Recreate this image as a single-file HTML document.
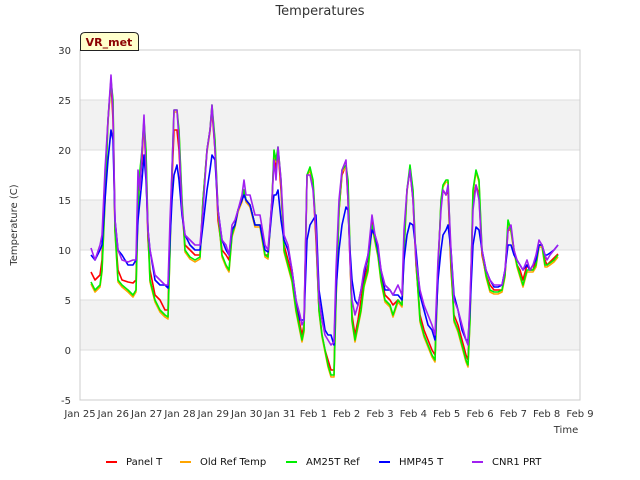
<!DOCTYPE html>
<html><head><meta charset="utf-8"><style>
body{margin:0;background:#fff;}
svg{display:block;font-family:"DejaVu Sans","Liberation Sans",sans-serif;}
</style></head><body>
<svg id="chart" width="640" height="480" viewBox="0 0 640 480">
<rect x="0" y="0" width="640" height="480" fill="#fff"/>
<text x="320" y="15" text-anchor="middle" font-size="13" fill="#333">Temperatures</text>
<g id="bands"></g>
<g id="grid"></g>
<rect x="80" y="50" width="500" height="350" fill="none" stroke="#ccc"/>
<g id="yticks"></g>
<g id="xticks"></g>
<text transform="translate(17,225) rotate(-90)" text-anchor="middle" font-size="10" fill="#333">Temperature (C)</text>
<text x="566" y="433" text-anchor="middle" font-size="10" fill="#333">Time</text>
<g id="series"></g>
<g>
<path d="M80.5,50.5 V37 Q80.5,32.5 85,32.5 H134 Q138.5,32.5 138.5,37 V50.5 Z" fill="#ffffcc" stroke="#222"/>
<text x="109" y="46" text-anchor="middle" font-size="11" font-weight="bold" fill="#8b0000">VR_met</text>
</g>
<g id="legend"></g>
</svg>
<script>
const times=[0.33,0.45,0.6,0.66,0.75,0.84,0.93,0.99,1.05,1.14,1.26,1.44,1.59,1.68,1.74,1.8,1.86,1.92,1.98,2.04,2.1,2.25,2.4,2.55,2.64,2.7,2.76,2.82,2.91,2.97,3.06,3.15,3.3,3.45,3.6,3.69,3.81,3.9,3.96,4.05,4.14,4.26,4.38,4.47,4.56,4.65,4.74,4.86,4.92,4.98,5.1,5.25,5.4,5.55,5.64,5.76,5.82,5.88,5.94,6.03,6.12,6.24,6.36,6.48,6.6,6.66,6.72,6.81,6.9,6.99,7.08,7.17,7.26,7.35,7.44,7.53,7.62,7.68,7.77,7.86,7.98,8.04,8.1,8.16,8.25,8.34,8.43,8.52,8.64,8.76,8.85,8.94,9.03,9.15,9.3,9.39,9.54,9.66,9.72,9.81,9.9,9.99,10.08,10.2,10.32,10.44,10.56,10.65,10.74,10.83,10.89,10.98,11.04,11.13,11.22,11.34,11.46,11.58,11.64,11.7,11.79,11.88,11.97,12.06,12.18,12.3,12.42,12.54,12.66,12.75,12.84,12.93,13.02,13.11,13.2,13.29,13.41,13.5,13.59,13.68,13.77,13.86,13.95,14.01,14.1,14.22,14.34];
const cnr1=[10.2,9,10.5,11.5,18,23,27.5,24,13,10,9,8.8,9,9,18,16,20,23.5,18,12,10,7.5,7,6.5,6.5,13,18,24,24,21,14,11.5,11,10.5,10.5,14,20,22,24.5,20,14,11,10.5,9.5,12.5,13,14,15.5,17,15.5,15.5,13.5,13.5,10.5,10,15,19,17,20.3,17,11.5,10.5,8,5,3.5,2.5,3,17.5,17.5,16,12,5,3,1.5,1,0.5,0.8,8,15,18,19,15,9,5,3.5,4.5,6,8,9.5,13.5,11.5,10.5,8,6.5,6,5.5,6.5,5.5,12,16,18,15,9,6,4.5,3.5,2.5,1.5,9,14,16,15.5,16.5,10,5,4,2.5,1,0.5,5,14,16.5,15,10,8,7,6.5,6.5,6.5,8,12,12.5,10,9,8.5,8,9,8,8.5,9.5,11,10.5,9.5,9,9.5,10,10.5];
const am25t=[6.8,6,6.5,8,15,23,27,25,12,7,6.5,6,5.5,6,14,18,20,23,20,12,7,5,4,3.5,3.3,10,18,24,24,22,15,10,9.3,9,9.3,15,20,22,24.5,21,14,9.5,8.5,8,11.5,12.5,14,15,16,15,14.5,12.5,12.5,9.5,9.3,15,20,19,20.3,17,10,8.5,7,4,2,1,2,17.5,18.3,17,12,4,1.5,0,-1.5,-2.5,-2.5,5,14,18,18.5,17,10,3,1,2.5,4,6.5,8,12.5,11,9.5,7,5,4.5,3.5,5,4.5,10,16,18.5,16,9,3,1.5,0.5,-0.5,-1,8,15,16.5,17,17,9,3,2,0.5,-1,-1.5,3,16,18,17,10,7.5,6,5.8,5.8,6,7.5,13,12,10,8.5,7.5,6.5,8,8,8,8.5,10.5,10.5,8.5,8.5,8.7,9,9.5];
const oldRef=[6.6,5.8,6.3,7.8,14.8,22.8,26.8,24.8,11.8,6.8,6.3,5.8,5.3,5.8,13.8,17.8,19.8,22.8,19.8,11.8,6.8,4.8,3.8,3.3,3.1,9.8,17.8,23.8,23.8,21.8,14.8,9.8,9.1,8.8,9.1,14.8,19.8,21.8,24.3,20.8,13.8,9.3,8.3,7.8,11.3,12.3,13.8,14.8,15.8,14.8,14.3,12.3,12.3,9.3,9.1,14.8,19.8,18.8,20.1,16.8,9.8,8.3,6.8,3.8,1.8,0.8,1.8,17.3,18.1,16.8,11.8,3.8,1.3,-0.2,-1.7,-2.7,-2.7,4.8,13.8,17.8,18.3,16.8,9.8,2.8,0.8,2.3,3.8,6.3,7.8,12.3,10.8,9.3,6.8,4.8,4.3,3.3,4.8,4.3,9.8,15.8,18.3,15.8,8.8,2.8,1.3,0.3,-0.7,-1.2,7.8,14.8,16.3,16.8,16.8,8.8,2.8,1.8,0.3,-1.2,-1.7,2.8,15.8,17.8,16.8,9.8,7.3,5.8,5.6,5.6,5.8,7.3,12.8,11.8,9.8,8.3,7.3,6.3,7.8,7.8,7.8,8.3,10.3,10.3,8.3,8.3,8.5,8.8,9.3];
const hmp45=[9.5,9,10,10.5,15,19,22,21,13,10,9.5,8.5,8.5,9,13,15,17,19.5,17,12,10,7,6.5,6.5,6.2,11,15,17.5,18.5,17,13.5,11.5,10.5,10,10,12.5,16,18,19.5,19,14,11,10,9.5,12,12.5,14,15,15.5,15,14.5,12.5,12.5,10,9.8,14,15.5,15.5,16,13,11,10,8,5,3,3,3,11,12.5,13,13.5,6,4,2,1.5,1.5,0.5,6,10,12.5,14.3,14,10,7,5,4.5,6,7.5,9.5,12,11.5,10,8,6,6,5.5,5.5,5,9,11.5,12.7,12.5,10,5.5,4,2.5,2,1,7,10,11.5,12,12.5,10,5.5,4,2,1,1,4,10.5,12.3,12,10,8,7,6.3,6.3,6.5,8,10.5,10.5,9.5,9,8.5,8,8.5,8,8.5,9,10.5,10.5,9.5,9.5,9.7,10,10.5];
const panelT=[7.8,7,7.5,9,17,23,27,23,12,8,7,6.8,6.7,7,16,17,19,23,18,11,8,5.5,5,4,4,12,17,22,22,20,14,10.5,10,9.5,9.5,15,20,22,24,20,13,10,9.5,9,12,12.5,14,15,16,15,14.5,12.5,12.5,9.5,9.5,15,19.5,18,20,16,10.5,9,7.5,4.5,2.5,1.5,2.5,17.5,18,16.5,11,4,1.5,0,-1,-2,-2,6,14,17.5,18.5,15,9,3.5,1.5,3,5,7,8.5,13,11,9.5,7.5,5.5,5,4.5,5,4.5,11,16,18,15,8.5,3.5,2,1,0,-0.5,8.5,14.5,16,15.5,16,8,3.5,2.5,1,-0.5,-1,4,15,16.5,15.5,9.5,7.5,6.5,6,6,6,7.5,12,12,10,8.5,8,7,8.5,8,8,9,10.5,10.5,9,8.5,8.8,9.2,9.6];
const yTicks=[-5,0,5,10,15,20,25,30];
const xTickLabels=["Jan 25","Jan 26","Jan 27","Jan 28","Jan 29","Jan 30","Jan 31","Feb 1","Feb 2","Feb 3","Feb 4","Feb 5","Feb 6","Feb 7","Feb 8","Feb 9"];
const legendNames=["Panel T","Old Ref Temp","AM25T Ref","HMP45 T","CNR1 PRT"];

const NS="http://www.w3.org/2000/svg";
const X0=80,X1=580,Y0=400,Y1=50;
function xs(d){return X0+d*(X1-X0)/15;}
function ys(v){return Y0-(v+5)*(Y0-Y1)/35;}
function mk(tag,attrs,parent){const e=document.createElementNS(NS,tag);for(const k in attrs)e.setAttribute(k,attrs[k]);parent.appendChild(e);return e;}

const bands=document.getElementById('bands');
[[0,5],[10,15],[20,25]].forEach(b=>{
  const r=mk('rect',{x:X0,y:ys(b[1]),width:X1-X0,height:ys(b[0])-ys(b[1]),fill:'#f2f2f2'},bands);
  
  
});
const grid=document.getElementById('grid'),yt=document.getElementById('yticks');
yTicks.forEach(v=>{
  const l=mk('line',{x1:X0,x2:X1,y1:ys(v),y2:ys(v),stroke:'#ddd'},grid);
  
  
  const t=mk('text',{x:71,y:ys(v)+4,'text-anchor':'end','font-size':'10',fill:'#333'},yt);
  t.textContent=v;
  
  
});
const xt=document.getElementById('xticks');
xTickLabels.forEach((s,i)=>{
  const t=mk('text',{x:xs(i),y:417,'text-anchor':'middle','font-size':'10',fill:'#333'},xt);
  t.textContent=s;
  
  
});
const colors=['#ff0000','#ffa500','#00ee00','#0000ff','#a020f0'];
const data=[panelT,oldRef,am25t,hmp45,cnr1];
const names=['panel-t-line','old-ref-temp-line','am25t-ref-line','hmp45-t-line','cnr1-prt-line'];
const sg=document.getElementById('series');
data.forEach((arr,k)=>{
  const d=arr.map((v,i)=>(i?'L':'M')+xs(times[i]).toFixed(1)+','+ys(v).toFixed(1)).join('');
  const p=mk('path',{d:d,fill:'none',stroke:colors[k],'stroke-width':'1.6','stroke-linejoin':'round'},sg);
  
  
});
const lg=document.getElementById('legend');
const lx=[106,180,286,379,472];
legendNames.forEach((n,k)=>{
  const g=mk('g',{},lg);
  
  
  mk('line',{x1:lx[k],x2:lx[k]+11,y1:462,y2:462,stroke:colors[k],'stroke-width':'2'},g);
  const t=mk('text',{x:lx[k]+20,y:465,'font-size':'10',fill:'#111'},g);
  t.textContent=n;
});
</script>
</body></html>
